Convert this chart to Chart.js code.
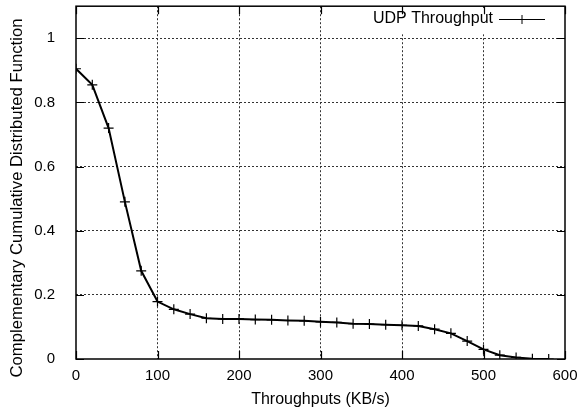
<!DOCTYPE html>
<html>
<head>
<meta charset="utf-8">
<script src="https://cdn.jsdelivr.net/npm/chart.js@4"></script>
<style>
  html, body { margin: 0; padding: 0; background: #fff; }
  #wrap { width: 584px; height: 413px; }
</style>
</head>
<body>
<div id="wrap"><canvas id="ccdf"></canvas></div>
<script>
// ===== UDP throughput CCDF =====
const throughputs = [0, 20, 40, 60, 80, 100, 120, 140, 160, 180, 200, 220, 240, 260, 280, 300,
  320, 340, 360, 380, 400, 420, 440, 460, 480, 500, 520, 540, 560, 580];
const ccdfValues = [0.905, 0.855, 0.72, 0.49, 0.275, 0.179, 0.155, 0.14, 0.127, 0.125, 0.125, 0.123,
  0.122, 0.12, 0.119, 0.116, 0.114, 0.11, 0.109, 0.107, 0.105, 0.103, 0.093, 0.08, 0.056, 0.03,
  0.012, 0.005, 0.001, 0];
const xTicks = [0, 100, 200, 300, 400, 500, 600];
const yTicks = [0, 0.2, 0.4, 0.6, 0.8, 1];
const yTickLabels = ['0', '0.2', '0.4', '0.6', '0.8', '1'];
const seriesLabel = 'UDP Throughput';
const xTitle = 'Throughputs (KB/s)';
const yTitle = 'Complementary Cumulative Distributed Function';

const FONT = 'Liberation Sans, Arial, Helvetica, sans-serif';

// frame, inward ticks, y title and legend like gnuplot
const gnuplotDeco = {
  id: 'gnuplotDeco',
  afterDraw(chart) {
    const ctx = chart.ctx, a = chart.chartArea;
    const xs = chart.scales.x, ys = chart.scales.y;
    ctx.save();
    // key area hides the grid behind it
    ctx.fillStyle = '#fff';
    ctx.fillRect(368, a.top + 2, a.right - 368 - 2, 26);
    ctx.strokeStyle = '#000';
    ctx.lineWidth = 1.5;
    ctx.strokeRect(a.left, a.top, a.right - a.left, a.bottom - a.top);
    ctx.lineWidth = 1.2;
    ctx.beginPath();
    xTicks.forEach(v => {
      const px = Math.round(xs.getPixelForValue(v)) + 0.5;
      ctx.moveTo(px, a.bottom); ctx.lineTo(px, a.bottom - 8);
      ctx.moveTo(px, a.top); ctx.lineTo(px, a.top + 8);
    });
    yTicks.forEach(v => {
      const py = Math.round(ys.getPixelForValue(v)) + 0.5;
      ctx.moveTo(a.left, py); ctx.lineTo(a.left + 8, py);
      ctx.moveTo(a.right, py); ctx.lineTo(a.right - 8, py);
    });
    ctx.stroke();

    // y axis title
    ctx.fillStyle = '#000';
    ctx.font = '16.7px ' + FONT;
    ctx.textAlign = 'center';
    ctx.textBaseline = 'middle';
    ctx.translate(17, 198);
    ctx.rotate(-Math.PI / 2);
    ctx.fillText(yTitle, 0, 0);
    ctx.restore();

    // legend: text then line sample with a cross
    ctx.save();
    ctx.font = '16px ' + FONT;
    ctx.fillStyle = '#000';
    ctx.textAlign = 'right';
    ctx.textBaseline = 'middle';
    ctx.fillText(chart.data.datasets[0].label, 493, 19);
    ctx.strokeStyle = '#000';
    ctx.lineWidth = 1;
    ctx.beginPath();
    ctx.moveTo(499, 19.5); ctx.lineTo(545, 19.5);
    ctx.moveTo(522, 15); ctx.lineTo(522, 24);
    ctx.stroke();
    ctx.restore();
  }
};

new Chart(document.getElementById('ccdf'), {
  type: 'line',
  data: {
    datasets: [{
      label: seriesLabel,
      data: throughputs.map((x, i) => ({ x: x, y: ccdfValues[i] })),
      borderColor: '#000',
      borderWidth: 2,
      pointStyle: 'cross',
      pointRadius: 5,
      pointBorderWidth: 1.2,
      pointBorderColor: '#000',
      tension: 0,
      fill: false
    }]
  },
  plugins: [gnuplotDeco],
  options: {
    responsive: true,
    maintainAspectRatio: false,
    animation: false,
    layout: { padding: { top: 5, right: 19, left: 0, bottom: 0 } },
    plugins: { legend: { display: false }, tooltip: { enabled: false } },
    scales: {
      x: {
        type: 'linear', min: 0, max: 600,
        afterBuildTicks: s => { s.ticks = xTicks.map(v => ({ value: v })); },
        afterFit: s => { s.height = 54; s.paddingLeft = 0; s.paddingRight = 0; },
        ticks: { color: '#000', padding: 8, font: { family: FONT, size: 15 }, maxRotation: 0 },
        grid: {
          color: ctx => (ctx.tick && (ctx.tick.value === 0 || ctx.tick.value === 600)) ? 'rgba(0,0,0,0)' : '#333',
          lineWidth: 1, drawTicks: false
        },
        border: { display: false, dash: [2, 2] },
        title: { display: true, text: xTitle, color: '#000', font: { family: FONT, size: 16 }, padding: { top: 0, bottom: 4 } }
      },
      y: {
        min: 0, max: 1.1,
        afterBuildTicks: s => { s.ticks = yTicks.map(v => ({ value: v })); },
        afterFit: s => { s.width = 76; s.paddingTop = 0; s.paddingBottom = 0; },
        ticks: {
          color: '#000', padding: 21, font: { family: FONT, size: 15 },
          callback: (v, i) => yTickLabels[i]
        },
        grid: {
          color: ctx => (ctx.tick && ctx.tick.value === 0) ? 'rgba(0,0,0,0)' : '#333',
          lineWidth: 1, drawTicks: false
        },
        border: { display: false, dash: [2, 2] }
      }
    }
  }
});
</script>
</body>
</html>
